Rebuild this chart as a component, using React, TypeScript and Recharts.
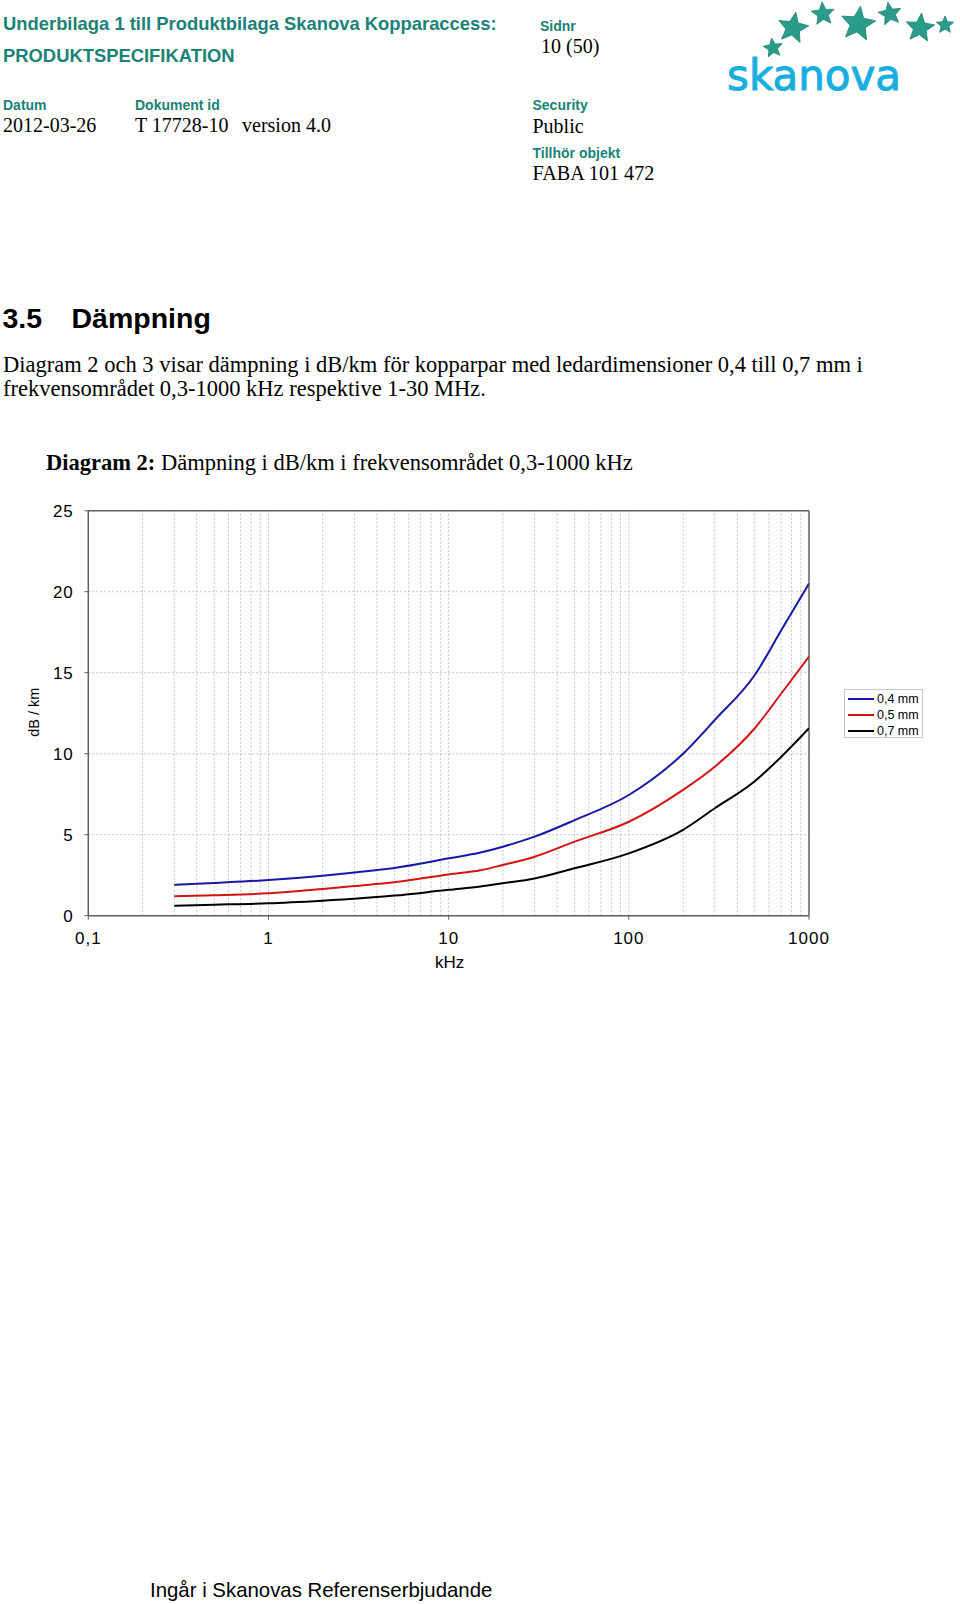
import { LineChart, Line, XAxis, YAxis, CartesianGrid, ReferenceLine, Legend } from "recharts";

// Diagram 2 — attenuation per km for copper pairs, 0.3–1000 kHz (log x)
const FREQ_KHZ = [0.3, 0.5, 1, 2, 3, 5, 10, 15, 20, 30, 50, 100, 200, 300, 500, 700, 1000];
const DB_04 = [1.9, 2.02, 2.2, 2.47, 2.67, 2.95, 3.54, 3.9, 4.26, 4.88, 5.9, 7.45, 10.0, 12.08, 14.86, 17.6, 20.5];
const DB_05 = [1.2, 1.26, 1.38, 1.65, 1.83, 2.06, 2.55, 2.8, 3.13, 3.64, 4.57, 5.8, 7.77, 9.2, 11.57, 13.7, 16.0];
const DB_07 = [0.62, 0.68, 0.77, 0.93, 1.04, 1.24, 1.6, 1.8, 2.0, 2.3, 2.93, 3.85, 5.3, 6.63, 8.3, 9.8, 11.57];

const SERIES_NAMES = ["0,4 mm", "0,5 mm", "0,7 mm"];
const SERIES_COLORS = ["#1818a8", "#d41414", "#000000"];

const X_TICKS = [0.1, 1, 10, 100, 1000];
const Y_TICKS = [0, 5, 10, 15, 20, 25];
const X_GRID = [
  0.2, 0.3, 0.4, 0.5, 0.6, 0.7, 0.8, 0.9, 1, 2, 3, 4, 5, 6, 7, 8, 9, 10, 20, 30, 40, 50, 60, 70, 80, 90, 100,
  200, 300, 400, 500, 600, 700, 800, 900,
];

const data = FREQ_KHZ.map((f, i) => ({ f, a04: DB_04[i], a05: DB_05[i], a07: DB_07[i] }));
const KEYS = ["a04", "a05", "a07"];

const SANS = '"Liberation Sans", Arial, sans-serif';
const SERIF = '"Liberation Serif", "Times New Roman", serif';
const TEAL = "#1a8276";
const AXIS = "#606060";
const GRID = "#c4c4c4";

function star(cx: number, cy: number, r: number, rot: number) {
  const pts: string[] = [];
  for (let k = 0; k < 10; k++) {
    const rr = k % 2 === 0 ? r : r * 0.45;
    const a = ((rot - 90 + k * 36) * Math.PI) / 180;
    pts.push(`${(cx + rr * Math.cos(a)).toFixed(1)},${(cy + rr * Math.sin(a)).toFixed(1)}`);
  }
  return pts.join(" ");
}

const STARS = [
  { cx: 773, cy: 48, r: 10, rot: -8 },
  { cx: 793, cy: 28, r: 16, rot: 10 },
  { cx: 823, cy: 14, r: 12, rot: -5 },
  { cx: 858, cy: 24, r: 18, rot: 8 },
  { cx: 890, cy: 14, r: 12, rot: -10 },
  { cx: 920, cy: 28, r: 15, rot: 6 },
  { cx: 945, cy: 25, r: 9, rot: 0 },
];

function LegendBox({ payload }: any) {
  return (
    <div
      style={{
        border: "1px solid #c8c8c8",
        background: "#fff",
        width: 79,
        height: 49,
        boxSizing: "border-box",
        padding: "1px 0 0 3px",
        fontFamily: SANS,
        fontSize: 12.5,
        color: "#000",
      }}
    >
      {(payload || []).map((p: any) => (
        <div key={p.value} style={{ display: "flex", alignItems: "center", height: 16 }}>
          <span style={{ width: 26, height: 0, borderTop: `2px solid ${p.color}` }} />
          <span style={{ marginLeft: 3, lineHeight: "16px", whiteSpace: "nowrap" }}>{p.value}</span>
        </div>
      ))}
    </div>
  );
}

export default function App() {
  return (
    <div style={{ position: "absolute", left: 0, top: 0, width: 960, height: 1604, background: "#fff" }}>
      <svg width={960} height={1604} style={{ position: "absolute", left: 0, top: 0 }}>
        <g fontFamily={SANS} fontWeight="bold" fill={TEAL}>
          <text x={3} y={30} fontSize={18.4}>Underbilaga 1 till Produktbilaga Skanova Kopparaccess:</text>
          <text x={3} y={61.5} fontSize={18.4}>PRODUKTSPECIFIKATION</text>
          <text x={540} y={31} fontSize={14}>Sidnr</text>
          <text x={3} y={109.5} fontSize={14}>Datum</text>
          <text x={135} y={109.5} fontSize={14}>Dokument id</text>
          <text x={532.5} y={109.5} fontSize={14}>Security</text>
          <text x={532.5} y={157.5} fontSize={14}>Tillhör objekt</text>
        </g>
        <g fontFamily={SERIF} fontSize={20} fill="#000">
          <text x={541} y={53}>10 (50)</text>
          <text x={3} y={131.5}>2012-03-26</text>
          <text x={135} y={131.5}>T 17728-10</text>
          <text x={242} y={131.5}>version 4.0</text>
          <text x={532.5} y={133}>Public</text>
          <text x={532.5} y={180} fontSize={20.2}>FABA 101 472</text>
        </g>
        <g>
          {STARS.map((s, i) => (
            <polygon key={i} points={star(s.cx, s.cy, s.r, s.rot)} fill="#2a9c8a" stroke="#1d7f70" strokeWidth={0.8} />
          ))}
          <text x={727} y={90} fontFamily='"DejaVu Sans", sans-serif' fontSize={42} fill="#1aaee0" stroke="#1aaee0" strokeWidth={1}>
            skanova
          </text>
        </g>
        <g fontFamily={SANS} fontWeight="bold" fontSize={28.5} fill="#000">
          <text x={2.5} y={328}>3.5</text>
          <text x={71.5} y={328}>Dämpning</text>
        </g>
        <g fontFamily={SERIF} fontSize={22.5} fill="#000">
          <text x={3} y={372}>
            Diagram 2 och 3 visar dämpning i dB/km för kopparpar med ledardimensioner 0,4 till 0,7 mm i
          </text>
          <text x={3} y={396}>frekvensområdet 0,3-1000 kHz respektive 1-30 MHz.</text>
          <text x={46} y={470}>
            <tspan fontWeight="bold">Diagram 2:</tspan> Dämpning i dB/km i frekvensområdet 0,3-1000 kHz
          </text>
        </g>
        <text x={150} y={1597} fontFamily={SANS} fontSize={20.4} fill="#000">
          Ingår i Skanovas Referenserbjudande
        </text>
      </svg>

      <div style={{ position: "absolute", left: 0, top: 480 }}>
        <LineChart width={960} height={500} data={data} margin={{ top: 30.7, right: 151, left: 0, bottom: 0 }}>
          <CartesianGrid vertical={false} stroke={GRID} strokeDasharray="2 2" />
          {X_GRID.map((v) => (
            <ReferenceLine key={v} x={v} stroke={GRID} strokeDasharray="2 2" />
          ))}
          <ReferenceLine y={25} stroke={AXIS} strokeWidth={1.5} />
          <ReferenceLine x={1000} stroke={AXIS} strokeWidth={1.5} />
          <XAxis
            dataKey="f"
            type="number"
            scale="log"
            domain={[0.1, 1000]}
            ticks={X_TICKS}
            allowDataOverflow
            height={64.3}
            tickFormatter={(v: number) => String(v).replace(".", ",")}
            tick={{ fontFamily: SANS, fontSize: 17, fill: "#000", letterSpacing: 1 }}
            tickSize={4}
            tickMargin={12.5}
            axisLine={{ stroke: AXIS, strokeWidth: 1.5 }}
            tickLine={{ stroke: AXIS }}
            label={({ viewBox }: any) => (
              <text
                x={viewBox.x + viewBox.width / 2 + 1}
                y={viewBox.y + 52}
                textAnchor="middle"
                fontFamily={SANS}
                fontSize={17}
                fill="#000"
              >
                kHz
              </text>
            )}
          />
          <YAxis
            type="number"
            domain={[0, 25]}
            ticks={Y_TICKS}
            width={88.3}
            tick={{ fontFamily: SANS, fontSize: 17, fill: "#000", letterSpacing: 1 }}
            tickSize={4}
            tickMargin={10.5}
            axisLine={{ stroke: AXIS, strokeWidth: 1.5 }}
            tickLine={{ stroke: AXIS }}
            label={({ viewBox }: any) => {
              const cx = viewBox.x + 39;
              const cy = viewBox.y + viewBox.height / 2 - 1;
              return (
                <text
                  x={cx}
                  y={cy}
                  transform={`rotate(-90 ${cx} ${cy})`}
                  textAnchor="middle"
                  fontFamily={SANS}
                  fontSize={14.5}
                  fill="#000"
                >
                  dB / km
                </text>
              );
            }}
          />
          <Legend
            layout="horizontal"
            align="center"
            verticalAlign="middle"
            content={<LegendBox />}
            wrapperStyle={{ position: "absolute", left: 844, top: 209, width: 79, height: 49 }}
          />
          {KEYS.map((k, i) => (
            <Line
              key={k}
              dataKey={k}
              name={SERIES_NAMES[i]}
              type="monotone"
              stroke={SERIES_COLORS[i]}
              strokeWidth={2}
              dot={false}
              isAnimationActive={false}
            />
          ))}
        </LineChart>
      </div>
    </div>
  );
}
